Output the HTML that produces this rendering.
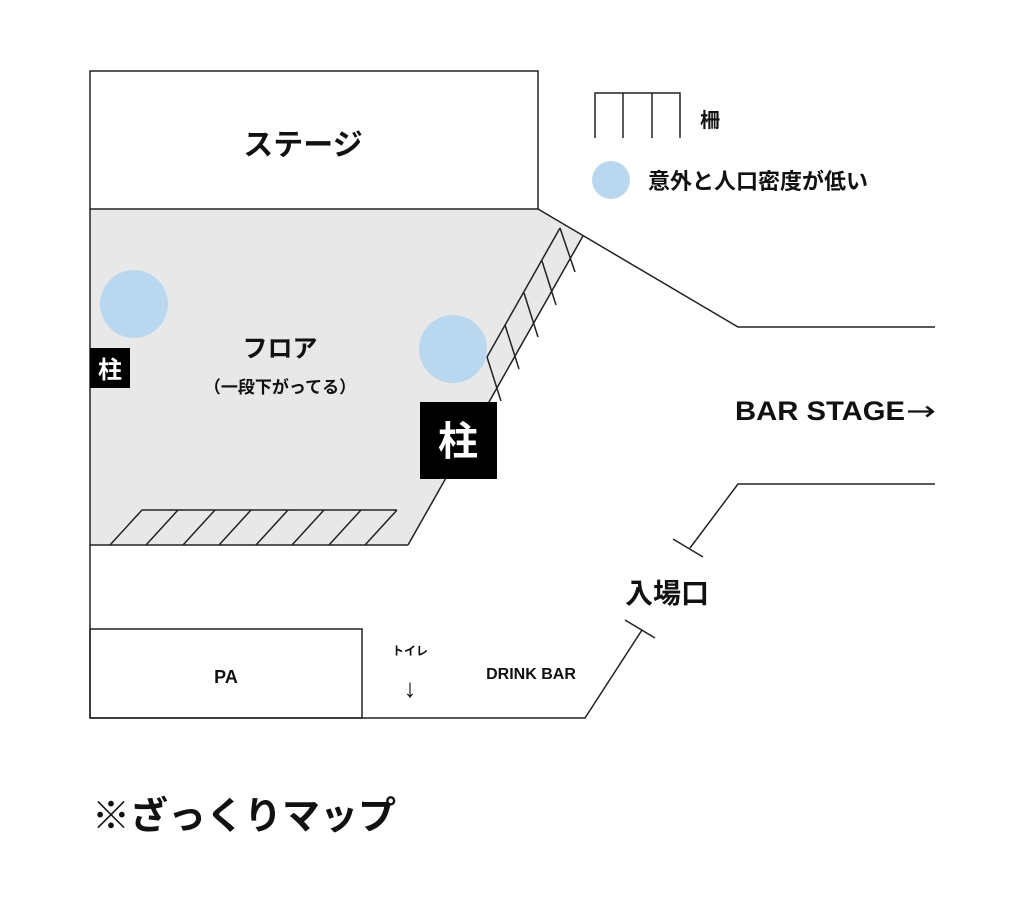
<!DOCTYPE html>
<html><head><meta charset="utf-8"><style>
html,body{margin:0;padding:0;background:#fff;}
svg{display:block;}
text{font-family:"Liberation Sans","Noto Sans CJK JP",sans-serif;font-weight:bold;fill:#111;}
</style></head><body>
<svg width="1024" height="910" viewBox="0 0 1024 910" xmlns="http://www.w3.org/2000/svg">
<g stroke="#222" stroke-width="1.5" fill="none">
<polygon points="90,209 538,209 583,236 408,545 90,545" fill="#e8e8e8" stroke="none"/>
<rect x="90" y="71" width="448" height="138" fill="#fff"/>
<line x1="90" y1="209" x2="90" y2="718"/>
<line x1="90" y1="545" x2="408" y2="545"/>
<line x1="408" y1="545" x2="583" y2="236"/>
<polyline points="538,209 738,327 935,327"/>
<polyline points="935,484 738,484 690,548"/>
<line x1="673" y1="539" x2="703" y2="557"/>
<line x1="625" y1="620" x2="655" y2="638"/>
<polyline points="642,630 585,718 90,718"/>
<rect x="90" y="629" width="272" height="89"/>
<line x1="560" y1="228" x2="487" y2="357"/>
<line x1="560" y1="228" x2="575" y2="272"/>
<line x1="542" y1="261" x2="556" y2="305"/>
<line x1="524" y1="293" x2="538" y2="337"/>
<line x1="505" y1="325" x2="519" y2="369"/>
<line x1="487" y1="357" x2="501" y2="401"/>
<line x1="142" y1="510" x2="397" y2="510"/>
<line x1="142" y1="510" x2="110" y2="545"/>
<line x1="178" y1="510" x2="146" y2="545"/>
<line x1="215" y1="510" x2="183" y2="545"/>
<line x1="251" y1="510" x2="219" y2="545"/>
<line x1="288" y1="510" x2="256" y2="545"/>
<line x1="324" y1="510" x2="292" y2="545"/>
<line x1="361" y1="510" x2="329" y2="545"/>
<line x1="397" y1="510" x2="365" y2="545"/>
<polyline points="595,138 595,93 680,93 680,138"/>
<line x1="623" y1="93" x2="623" y2="138"/>
<line x1="652" y1="93" x2="652" y2="138"/>
</g>
<circle cx="134" cy="304" r="34" fill="#b9d8ef"/>
<circle cx="453" cy="349" r="34" fill="#b9d8ef"/>
<circle cx="611" cy="180" r="19" fill="#b9d8ef"/>
<rect x="90" y="348" width="40" height="40" fill="#000"/>
<text x="110" y="378" font-size="24" text-anchor="middle" style="fill:#fff">柱</text>
<rect x="420" y="402" width="77" height="77" fill="#000"/>
<text x="458" y="455" font-size="40" text-anchor="middle" style="fill:#fff">柱</text>
<text x="303" y="155" font-size="30" text-anchor="middle">ステージ</text>
<text x="280" y="357" font-size="25" text-anchor="middle">フロア</text>
<text x="280" y="393" font-size="17" text-anchor="middle">（一段下がってる）</text>
<text x="735" y="420" font-size="27" textLength="170" lengthAdjust="spacingAndGlyphs">BAR STAGE</text>
<text x="906" y="420" font-size="27" style="font-weight:normal;font-family:'DejaVu Sans',sans-serif" textLength="30" lengthAdjust="spacingAndGlyphs">→</text>
<text x="667" y="603" font-size="28" text-anchor="middle">入場口</text>
<text x="226" y="683" font-size="18" text-anchor="middle">PA</text>
<text x="410" y="655" font-size="12" text-anchor="middle">トイレ</text>
<text x="410" y="697" font-size="26" text-anchor="middle" style="font-weight:normal">↓</text>
<text x="531" y="679" font-size="16" text-anchor="middle">DRINK BAR</text>
<text x="700" y="127" font-size="20">柵</text>
<text x="648" y="189" font-size="22">意外と人口密度が低い</text>
<text x="92" y="829" font-size="38">※ざっくりマップ</text>
</svg>
</body></html>
